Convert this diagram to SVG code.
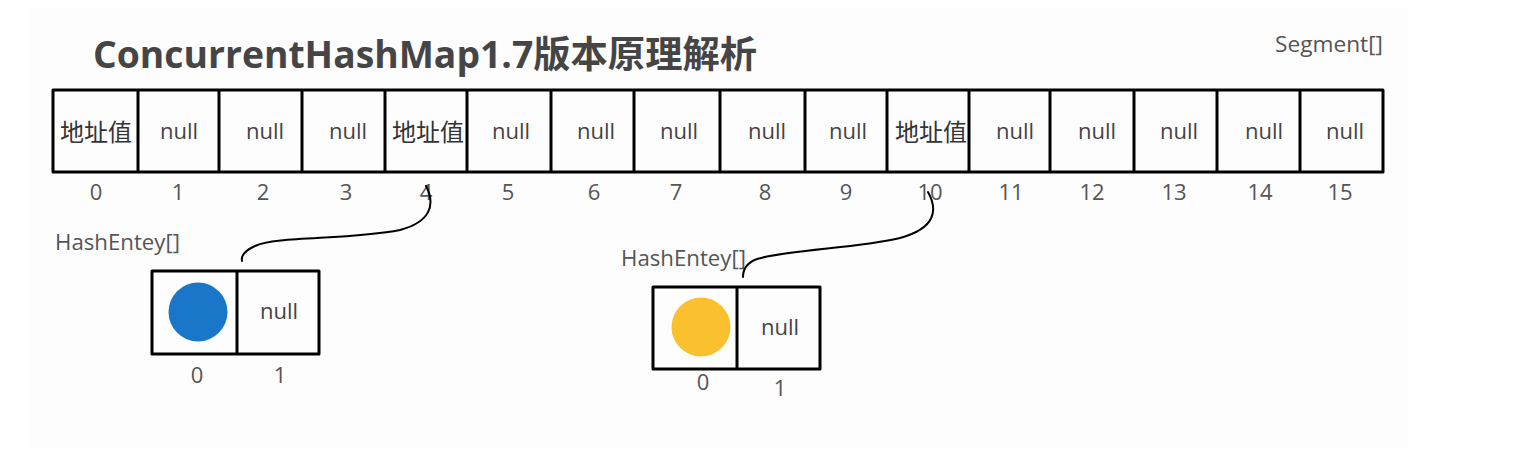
<svg xmlns="http://www.w3.org/2000/svg" width="1524" height="450" viewBox="0 0 1524 450">
<style>
.box{fill:none;stroke:#000;stroke-width:3;stroke-linejoin:round}
.div{stroke:#000;stroke-width:3}
.nul{font-family:"Open Sans","Liberation Sans",sans-serif;font-size:22px;fill:#444;text-anchor:middle}
.addr{font-family:"Noto Sans CJK SC","Noto Sans",sans-serif;font-size:24px;fill:#333;text-anchor:middle}
.idx{font-family:"Open Sans","Liberation Sans",sans-serif;font-size:22px;fill:#555;text-anchor:middle}
.lbl{font-family:"Open Sans","Liberation Sans",sans-serif;font-size:21px;fill:#555}
.conn{fill:none;stroke:#000;stroke-width:2;stroke-linecap:round}
</style>
<rect x="0" y="0" width="1524" height="450" fill="#ffffff"/>
<rect x="28" y="8" width="1380" height="440" fill="#fcfdfc"/>

<g id="title">
<text x="93" y="68" font-family="'Open Sans','Noto Sans CJK SC',sans-serif" font-size="37" font-weight="bold" fill="#454545" textLength="664" lengthAdjust="spacingAndGlyphs">ConcurrentHashMap1.7版本原理解析</text>
</g>

<g id="segment-label">
<text class="lbl" x="1383" y="52" text-anchor="end" textLength="108" lengthAdjust="spacingAndGlyphs">Segment[]</text>
</g>

<g id="segment-array">
<rect x="53" y="90" width="1330" height="82" class="box"/>
<g class="div">
<line x1="138" y1="90" x2="138" y2="172"/>
<line x1="219" y1="90" x2="219" y2="172"/>
<line x1="302" y1="90" x2="302" y2="172"/>
<line x1="385" y1="90" x2="385" y2="172"/>
<line x1="467" y1="90" x2="467" y2="172"/>
<line x1="551" y1="90" x2="551" y2="172"/>
<line x1="634" y1="90" x2="634" y2="172"/>
<line x1="720" y1="90" x2="720" y2="172"/>
<line x1="805" y1="90" x2="805" y2="172"/>
<line x1="887" y1="90" x2="887" y2="172"/>
<line x1="969" y1="90" x2="969" y2="172"/>
<line x1="1050" y1="90" x2="1050" y2="172"/>
<line x1="1134" y1="90" x2="1134" y2="172"/>
<line x1="1217" y1="90" x2="1217" y2="172"/>
<line x1="1300" y1="90" x2="1300" y2="172"/>
</g>
<text class="addr" x="96" y="141">地址值</text>
<text class="nul" x="179" y="139">null</text>
<text class="nul" x="265" y="139">null</text>
<text class="nul" x="348" y="139">null</text>
<text class="addr" x="428" y="141">地址值</text>
<text class="nul" x="511" y="139">null</text>
<text class="nul" x="596" y="139">null</text>
<text class="nul" x="679" y="139">null</text>
<text class="nul" x="767" y="139">null</text>
<text class="nul" x="848" y="139">null</text>
<text class="addr" x="931" y="141" fill="#4a4a44">地址值</text>
<text class="nul" x="1015" y="139">null</text>
<text class="nul" x="1097" y="139">null</text>
<text class="nul" x="1179" y="139">null</text>
<text class="nul" x="1264" y="139">null</text>
<text class="nul" x="1345" y="139">null</text>
</g>

<g id="segment-indexes">
<text class="idx" x="96" y="200">0</text>
<text class="idx" x="178" y="200">1</text>
<text class="idx" x="263" y="200">2</text>
<text class="idx" x="346" y="200">3</text>
<text class="idx" x="426" y="200">4</text>
<text class="idx" x="508" y="200">5</text>
<text class="idx" x="594" y="200">6</text>
<text class="idx" x="676" y="200">7</text>
<text class="idx" x="765" y="200">8</text>
<text class="idx" x="846" y="200">9</text>
<text class="idx" x="930" y="200">10</text>
<text class="idx" x="1011" y="200">11</text>
<text class="idx" x="1092" y="200">12</text>
<text class="idx" x="1174" y="200">13</text>
<text class="idx" x="1260" y="200">14</text>
<text class="idx" x="1340" y="200">15</text>
</g>

<g id="hashentry-1">
<text class="lbl" x="55" y="250" textLength="125" lengthAdjust="spacingAndGlyphs">HashEntey[]</text>
<rect x="152" y="271" width="167" height="83" class="box"/>
<line x1="237" y1="271" x2="237" y2="354" class="div"/>
<circle cx="198" cy="312" r="29.5" fill="#1976c8"/>
<text class="nul" x="279" y="319">null</text>
<text class="idx" x="197" y="383">0</text>
<text class="idx" x="280" y="383">1</text>
</g>

<g id="hashentry-2">
<text class="lbl" x="621" y="266" textLength="125" lengthAdjust="spacingAndGlyphs">HashEntey[]</text>
<rect x="653" y="287" width="167" height="82" class="box"/>
<line x1="737" y1="287" x2="737" y2="369" class="div"/>
<circle cx="701" cy="327" r="29.5" fill="#fbc02d"/>
<text class="nul" x="780" y="335">null</text>
<text class="idx" x="703" y="390">0</text>
<text class="idx" x="780" y="396">1</text>
</g>

<g id="connectors">
<path class="conn" d="M 426 186 C 436 205, 430 222, 400 230 C 350 240, 275 236, 255 246 C 244 251, 241 256, 242 261"/>
<path class="conn" d="M 928 192 C 938 210, 936 228, 900 238 C 860 248, 785 250, 757 259 C 746 263, 743 270, 743 277"/>
</g>
</svg>
